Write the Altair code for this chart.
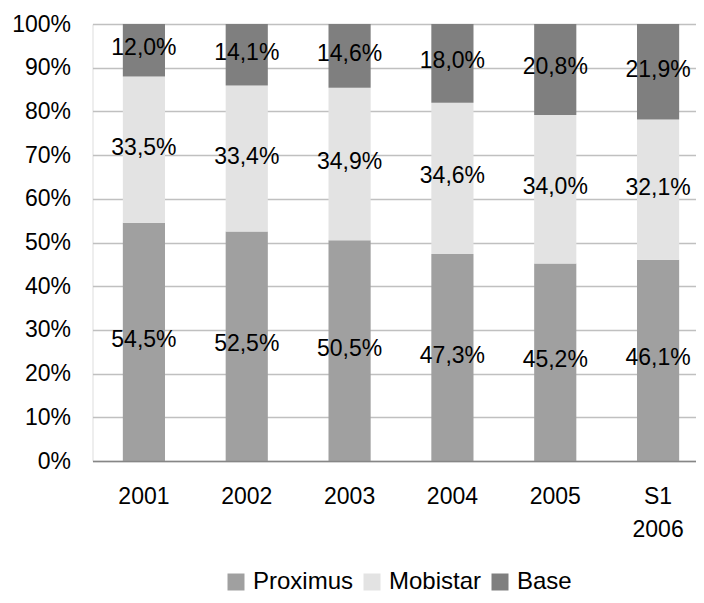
import altair as alt
import pandas as pd

categories = ["2001", "2002", "2003", "2004", "2005", "S1 2006"]
series = ["Proximus", "Mobistar", "Base"]
proximus = [54.5, 52.5, 50.5, 47.3, 45.2, 46.1]
mobistar = [33.5, 33.4, 34.9, 34.6, 34.0, 32.1]
base = [12.0, 14.1, 14.6, 18.0, 20.8, 21.9]
colors = ["#a0a0a0", "#e3e3e3", "#7f7f7f"]
y_ticks = [0, 0.1, 0.2, 0.3, 0.4, 0.5, 0.6, 0.7, 0.8, 0.9, 1.0]

rows = []
for i, c in enumerate(categories):
    for k, (s, vals) in enumerate(zip(series, [proximus, mobistar, base])):
        rows.append({"cat": c, "series": s, "value": vals[i], "order": k})
df = pd.DataFrame(rows)

FONT = "Liberation Sans"

x_scale = alt.Scale(paddingInner=0.59, paddingOuter=0.295, range=[0, 617])

x_enc = alt.X(
    "cat:N",
    sort=categories,
    title=None,
    scale=x_scale,
    axis=alt.Axis(
        labelAngle=0,
        labelFontSize=23,
        labelFont=FONT,
        labelColor="black",
        labelPadding=24,
        ticks=False,
        domainColor="#868686",
        domainWidth=1.5,
        labelExpr="split(datum.label, ' ')",
        labelLineHeight=33,
        grid=False,
        zindex=1,
    ),
)

y_scale = alt.Scale(domain=[0, 1])

bars = alt.Chart(df).mark_bar().encode(
    x=x_enc,
    y=alt.Y(
        "value:Q",
        stack="normalize",
        scale=y_scale,
        title=None,
        axis=alt.Axis(
            format=".0%",
            values=y_ticks,
            labelFontSize=23,
            labelFont=FONT,
            labelColor="black",
            labelPadding=22,
            ticks=False,
            domain=False,
            grid=True,
            gridColor="#c0c0c0",
            gridWidth=1.5,
        ),
    ),
    color=alt.Color(
        "series:N",
        sort=series,
        scale=alt.Scale(domain=series, range=colors),
        legend=alt.Legend(
            title=None,
            orient="none",
            legendX=131.5,
            legendY=546,
            direction="horizontal",
            columns=3,
            labelFontSize=24,
            labelFont=FONT,
            labelColor="black",
            symbolType="square",
            symbolSize=289,
            symbolStrokeWidth=0,
            symbolOpacity=1,
            columnPadding=6,
            labelOffset=5,
        ),
    ),
    order=alt.Order("order:Q"),
)

labels = (
    alt.Chart(df)
    .transform_stack(
        stack="value",
        groupby=["cat"],
        as_=["y0", "y1"],
        offset="normalize",
        sort=[alt.SortField("order")],
    )
    .transform_calculate(
        mid="(datum.y0 + datum.y1) / 2",
        label="replace(format(datum.value, '.1f'), '.', ',') + '%'",
    )
    .mark_text(fontSize=23, font=FONT, color="black", baseline="middle", align="center", dy=-2)
    .encode(
        x=alt.X("cat:N", sort=categories, scale=x_scale),
        y=alt.Y("mid:Q", scale=y_scale),
        text="label:N",
    )
)

chart = (
    alt.layer(bars, labels)
    .properties(
        width=603.5,
        height=437,
        autosize=alt.AutoSizeParams(type="none"),
        padding={"left": 84.5, "top": 16, "right": 0, "bottom": 134},
    )
    .configure_view(stroke=None)
    .configure(background="white")
)

chart.save("out.html", embed_options={"renderer": "svg", "actions": False})
